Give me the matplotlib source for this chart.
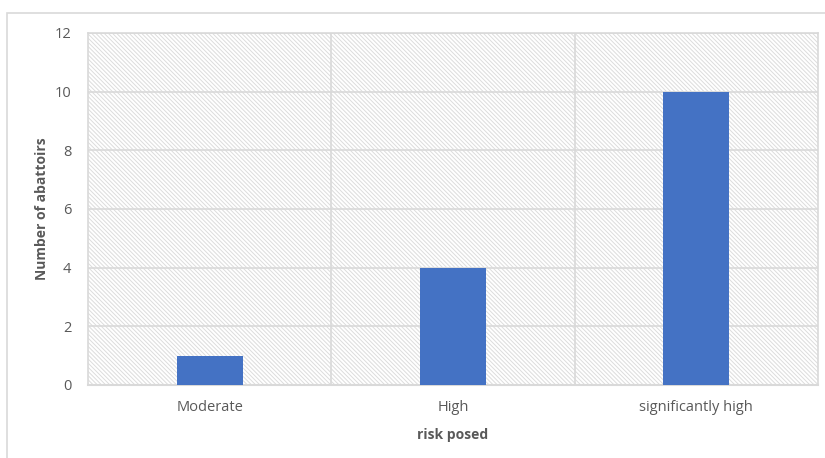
import matplotlib.pyplot as plt
from matplotlib.patches import Rectangle

# risk categories and abattoir counts
categories = ['Moderate', 'High', 'significantly high']
counts = [1, 4, 10]
y_ticks = [0, 2, 4, 6, 8, 10, 12]

BAR_COLOR = '#4472C4'
GRID_COLOR = '#d9d9d9'
HATCH_COLOR = '#dcdcdc'
TEXT_COLOR = '#595959'

plt.rcParams['font.family'] = ['Open Sans', 'DejaVu Sans']
plt.rcParams['hatch.linewidth'] = 0.7

fig = plt.figure(figsize=(8.25, 4.58), dpi=100)
ax = fig.add_axes([88 / 825, 73 / 458, 730 / 825, 352 / 458])

# chart border
fig.patches.append(Rectangle((7 / 825, -0.1), 1.2, (458 - 13) / 458 + 0.1,
                             transform=fig.transFigure, fill=False,
                             edgecolor=GRID_COLOR, linewidth=1.2))

# hatched plot background
ax.add_patch(Rectangle((0, 0), 1, 1, transform=ax.transAxes, facecolor='white',
                       edgecolor=HATCH_COLOR, hatch='\\' * 8, linewidth=0, zorder=0))

x = range(len(categories))
ax.bar(x, counts, width=0.27, color=BAR_COLOR, zorder=3)

ax.set_xlim(-0.5, len(categories) - 0.5)
ax.set_ylim(0, 12)
ax.set_yticks(y_ticks)
ax.set_xticks(list(x))
ax.set_xticklabels(categories)

# horizontal gridlines and category separators
for t in y_ticks[1:]:
    ax.axhline(t, color=GRID_COLOR, linewidth=1.2, zorder=1)
for b in [0.5, 1.5]:
    ax.axvline(b, color=GRID_COLOR, linewidth=1.2, zorder=1)

for side in ['left', 'right', 'top']:
    ax.spines[side].set_color(GRID_COLOR)
    ax.spines[side].set_linewidth(1.2)
ax.spines['bottom'].set_color(GRID_COLOR)
ax.spines['bottom'].set_linewidth(1.5)

ax.tick_params(length=0, colors=TEXT_COLOR, labelsize=10.5)
ax.tick_params(axis='x', pad=11)
ax.tick_params(axis='y', pad=12)

ax.set_xlabel('risk posed', fontsize=10, fontweight='bold', color=TEXT_COLOR, labelpad=9)
ax.set_ylabel('Number of abattoirs', fontsize=10, fontweight='bold', color=TEXT_COLOR, labelpad=4)

fig.savefig('out.png', dpi=100)
